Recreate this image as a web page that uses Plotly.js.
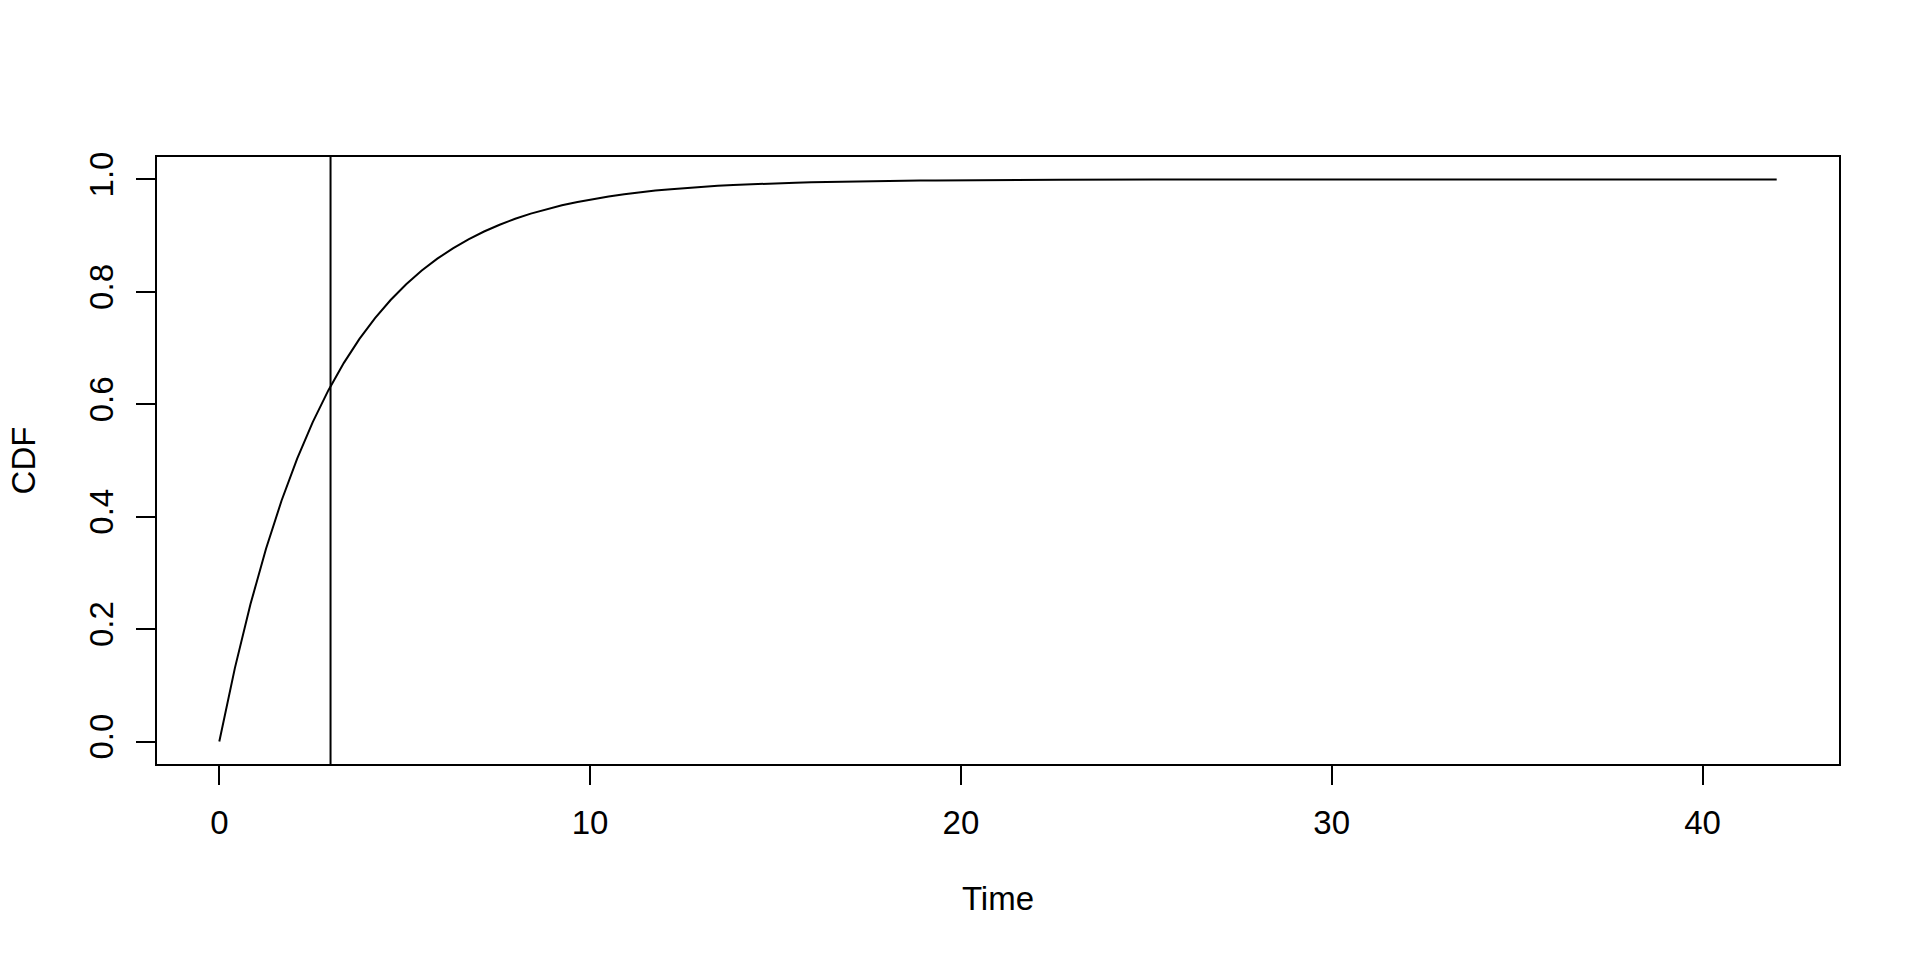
<!DOCTYPE html>
<html>
<head>
<meta charset="utf-8">
<script src="https://cdn.plot.ly/plotly-3.0.1.min.js"></script>
<style>
  html, body { margin: 0; padding: 0; background: #ffffff; }
  #chart { width: 1920px; height: 960px; }
</style>
</head>
<body>
<div id="chart"></div>
<script>
// Time values of the plotted curve
var time = [0, 0.42, 0.84, 1.26, 1.68, 2.1, 2.52, 2.94, 3.36, 3.78,
  4.2, 4.62, 5.04, 5.46, 5.88, 6.3, 6.72, 7.14, 7.56, 7.98,
  8.4, 8.82, 9.24, 9.66, 10.08, 10.5, 10.92, 11.34, 11.76, 12.18,
  12.6, 13.02, 13.44, 13.86, 14.28, 14.7, 15.12, 15.54, 15.96, 16.38,
  16.8, 17.22, 17.64, 18.06, 18.48, 18.9, 19.32, 19.74, 20.16, 20.58,
  21, 22.68, 25.2, 29.4, 42];
// CDF values
var cdf = [0, 0.1306, 0.2442, 0.3430, 0.4288, 0.5034, 0.5683, 0.6247, 0.6737, 0.7163,
  0.7534, 0.7856, 0.8136, 0.8380, 0.8591, 0.8775, 0.8935, 0.9074, 0.9195, 0.9301,
  0.9392, 0.9471, 0.9540, 0.9600, 0.9653, 0.9698, 0.9737, 0.9772, 0.9802, 0.9828,
  0.9850, 0.9870, 0.9887, 0.9901, 0.9914, 0.9926, 0.9935, 0.9944, 0.9951, 0.9957,
  0.9963, 0.9968, 0.9972, 0.9976, 0.9979, 0.9982, 0.9984, 0.9986, 0.9988, 0.9990,
  0.9991, 0.9995, 0.9998, 0.9999, 1.0];
// Vertical reference line position
var vlineX = [3];
// Tick values
var xTicks = [0, 10, 20, 30, 40];
var xTickLabels = ["0", "10", "20", "30", "40"];
var yTicks = [0, 0.2, 0.4, 0.6, 0.8, 1.0];
var yTickLabels = ["0.0", "0.2", "0.4", "0.6", "0.8", "1.0"];

var font = "Liberation Sans, Arial, Helvetica, sans-serif";

var traces = [{
  x: time,
  y: cdf,
  type: "scatter",
  mode: "lines",
  line: { color: "#000000", width: 2 },
  hoverinfo: "x+y"
}];

var layout = {
  width: 1920,
  height: 960,
  paper_bgcolor: "#ffffff",
  plot_bgcolor: "#ffffff",
  showlegend: false,
  margin: { l: 157, r: 81, t: 157, b: 196, pad: 0 },
  font: { family: font, size: 33, color: "#000000" },
  xaxis: {
    range: [-1.68, 43.68],
    tickmode: "array",
    tickvals: xTicks,
    ticktext: xTickLabels,
    ticks: "outside",
    ticklen: 19,
    tickwidth: 2,
    tickcolor: "#000000",
    ticklabelstandoff: 9,
    showline: true,
    linecolor: "#000000",
    linewidth: 2,
    mirror: true,
    showgrid: false,
    zeroline: false,
    tickfont: { family: font, size: 33, color: "#000000" },
    title: { text: "Time", font: { family: font, size: 33, color: "#000000" }, standoff: 47 },
    automargin: false
  },
  yaxis: {
    range: [-0.04, 1.04],
    tickmode: "array",
    tickvals: yTicks,
    ticktext: yTickLabels,
    tickangle: -90,
    ticks: "outside",
    ticklen: 19,
    tickwidth: 2,
    tickcolor: "#000000",
    ticklabelstandoff: 10,
    showline: true,
    linecolor: "#000000",
    linewidth: 2,
    mirror: true,
    showgrid: false,
    zeroline: false,
    tickfont: { family: font, size: 33, color: "#000000" },
    title: { text: "CDF", font: { family: font, size: 33, color: "#000000" }, standoff: 37 },
    automargin: false
  },
  shapes: [{
    type: "line",
    xref: "x",
    yref: "paper",
    x0: vlineX[0],
    x1: vlineX[0],
    y0: 0,
    y1: 1,
    line: { color: "#000000", width: 2 }
  }]
};

Plotly.newPlot("chart", traces, layout, { staticPlot: false, displayModeBar: false });
</script>
</body>
</html>
